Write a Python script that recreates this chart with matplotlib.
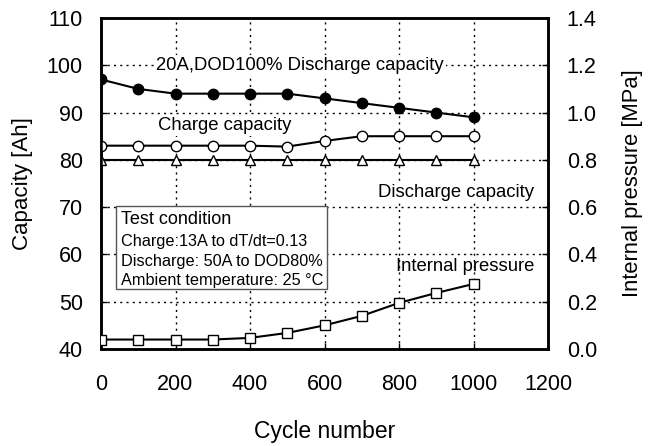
import matplotlib.pyplot as plt
import numpy as np

plt.rcParams['font.family'] = ['Liberation Sans', 'DejaVu Sans']

cycles = np.array([0, 100, 200, 300, 400, 500, 600, 700, 800, 900, 1000])
discharge_20A = [97, 95, 94, 94, 94, 94, 93, 92, 91, 90, 89]
charge_cap = [83, 83, 83, 83, 83, 82.8, 84, 85, 85, 85, 85]
discharge_cap = [80, 80, 80, 80, 80, 80, 80, 80, 80, 80, 80]
pressure = [0.04, 0.04, 0.04, 0.04, 0.047, 0.068, 0.10, 0.14, 0.195, 0.237, 0.275]

fig = plt.figure(figsize=(6.52, 4.46), dpi=100)
ax = fig.add_axes([101/652, 1-349/446, 447/652, 331/446])
ax2 = ax.twinx()

ax.set_xlim(0, 1200)
ax.set_ylim(40, 110)
ax2.set_ylim(0, 1.4)
ax.set_xticks(range(0, 1201, 200))
ax.set_yticks(range(40, 111, 10))
ax2.set_yticks(np.arange(0, 1.41, 0.2))
ax2.set_yticklabels(["%.1f" % v for v in np.arange(0, 1.41, 0.2)])

ax.grid(True, linestyle=(0, (1.5, 3)), color='black', linewidth=1)
ax.set_axisbelow(True)

mk = dict(markersize=7.5, markeredgecolor='black', markeredgewidth=1, color='black', linewidth=1.5)
ax.plot(cycles, discharge_20A, marker='o', markerfacecolor='black', zorder=3, **mk)
ax.plot(cycles, charge_cap, marker='o', markerfacecolor='white', zorder=3, **mk)
ax.plot(cycles, discharge_cap, marker='^', markerfacecolor='white', zorder=3, **mk)
ax2.plot(cycles, pressure, marker='s', markerfacecolor='white', zorder=3, **mk)

bg = dict(facecolor='white', edgecolor='none', pad=1)
ax.text(535, 100, "20A,DOD100% Discharge capacity", fontsize=13.3, ha='center', va='center', bbox=bg, zorder=4)
ax.text(333, 87.2, "Charge capacity", fontsize=13.3, ha='center', va='center', bbox=bg, zorder=4)
ax.text(1162, 73.05, "Discharge capacity", fontsize=13.3, ha='right', va='center', bbox=bg, zorder=4)
ax.text(977, 57.4, "Internal pressure", fontsize=13.3, ha='center', va='center', zorder=4)

# test condition box
rect = plt.Rectangle((39.5, 52.7), 566.5, 17.6, facecolor='white', edgecolor='#555555', linewidth=1, zorder=4)
ax.add_patch(rect)
ax.text(53, 67.3, "Test condition", fontsize=13, ha='left', va='center', zorder=5)
lines = ["Charge:13A to dT/dt=0.13", "Discharge: 50A to DOD80%", "Ambient temperature: 25 \u00b0C"]
line_y = [62.8, 58.55, 54.4]
for s, yy in zip(lines, line_y):
    ax.text(53, yy, s, fontsize=11.7, ha='left', va='center', zorder=5)

for a in (ax, ax2):
    for sp in a.spines.values():
        sp.set_linewidth(1.8)
    a.tick_params(direction='in', length=4, width=1, labelsize=15.5)
ax.tick_params(axis='x', pad=18)
ax.tick_params(axis='y', pad=13)
ax2.tick_params(axis='y', pad=13.5)

ax.set_xlabel("Cycle number", fontsize=16.5, labelpad=18)
ax.set_ylabel("Capacity [Ah]", fontsize=16, labelpad=10)
ax2.set_ylabel("Internal pressure [MPa]", fontsize=15.8, labelpad=18)

fig.savefig("out.png", dpi=100)
